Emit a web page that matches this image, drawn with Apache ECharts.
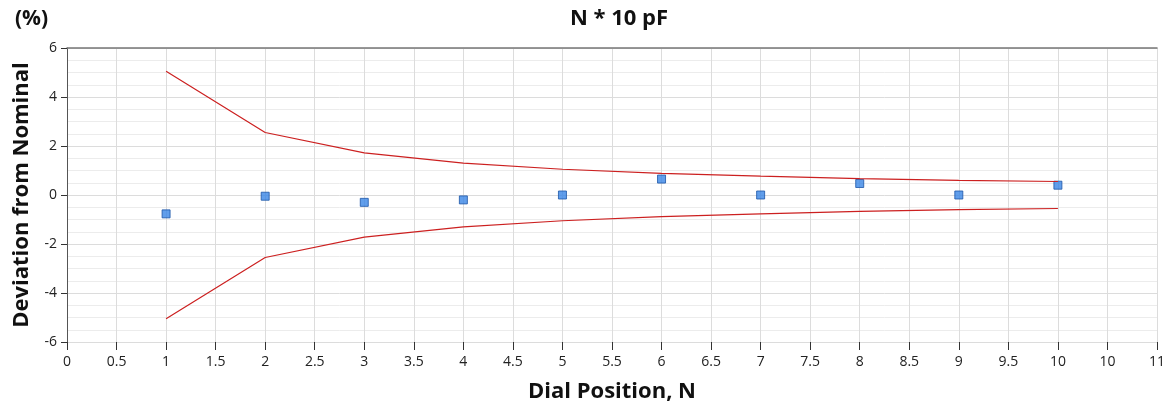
<!DOCTYPE html>
<html><head><meta charset="utf-8">
<script src="https://cdn.jsdelivr.net/npm/echarts@6/dist/echarts.min.js"></script>
<style>html,body{margin:0;padding:0;background:#fff}#c{width:1168px;height:408px}</style>
</head><body><div id="c"></div>
<script>
const dialPositions = [1, 2, 3, 4, 5, 6, 7, 8, 9, 10];
const measured = [-0.77, -0.05, -0.3, -0.2, 0.0, 0.65, 0.0, 0.47, 0.0, 0.4];
const upperLimit = [5.05, 2.55, 1.72, 1.3, 1.05, 0.88, 0.77, 0.67, 0.6, 0.55];
const lowerLimit = [-5.05, -2.55, -1.72, -1.3, -1.05, -0.88, -0.77, -0.67, -0.6, -0.55];
const xTickLabels = {"10.5": "10"};

const F = '"Open Sans","Noto Sans","DejaVu Sans",sans-serif';
const chart = echarts.init(document.getElementById('c'));
const pair = (xs, ys) => xs.map((x, i) => [x, ys[i]]);
chart.setOption({
  animation: false,
  grid: {left: 67, right: 8, top: 48, bottom: 65},
  title: [
    {text: 'N * 10 pF', left: 614, top: 3, textAlign: 'center',
     textStyle: {fontFamily: F, fontWeight: 'bold', fontSize: 22, color: '#111'}},
    {text: '(%)', left: 10, top: 4,
     textStyle: {fontFamily: F, fontWeight: 'bold', fontSize: 21, color: '#111'}}
  ],
  xAxis: [{
    type: 'value', min: 0, max: 11, interval: 0.5,
    name: 'Dial Position, N', nameLocation: 'middle', nameGap: 39,
    nameTextStyle: {fontFamily: F, fontWeight: 'bold', fontSize: 22, color: '#111'},
    axisLine: {show: true, onZero: false, lineStyle: {color: '#dcdcdc'}},
    axisTick: {show: true, length: 8, lineStyle: {color: '#333'}},
    axisLabel: {fontFamily: F, fontSize: 14, color: '#222', margin: 13,
      formatter: v => xTickLabels[String(v)] !== undefined ? xTickLabels[String(v)] : String(v)},
    splitLine: {show: true, lineStyle: {color: '#dcdcdc'}}
  }, {
    type: 'value', min: 0, max: 11, position: 'top',
    axisLine: {show: true, onZero: false, lineStyle: {color: '#777', width: 1.5}},
    axisTick: {show: false}, axisLabel: {show: false}, splitLine: {show: false}
  }],
  yAxis: {
    type: 'value', min: -6, max: 6, interval: 2,
    name: 'Deviation from Nominal', nameLocation: 'middle', nameGap: 34,
    nameTextStyle: {fontFamily: F, fontWeight: 'bold', fontSize: 22, color: '#111'},
    axisLine: {show: true, onZero: false, lineStyle: {color: '#555'}},
    axisTick: {show: true, length: 6, lineStyle: {color: '#333'}},
    axisLabel: {fontFamily: F, fontSize: 14, color: '#222', margin: 10},
    splitLine: {show: true, lineStyle: {color: '#dcdcdc'}},
    minorTick: {show: false, splitNumber: 4},
    minorSplitLine: {show: true, lineStyle: {color: '#ececec'}}
  },
  series: [
    {type: 'line', data: pair(dialPositions, upperLimit), symbol: 'none',
     lineStyle: {color: '#cc2020', width: 1.2}},
    {type: 'line', data: pair(dialPositions, lowerLimit), symbol: 'none',
     lineStyle: {color: '#cc2020', width: 1.2}},
    {type: 'scatter', data: pair(dialPositions, measured), symbol: 'rect', symbolSize: 8,
     itemStyle: {color: '#3a86e6', borderColor: '#1c55a8', borderWidth: 1}}
  ]
});
</script></body></html>
